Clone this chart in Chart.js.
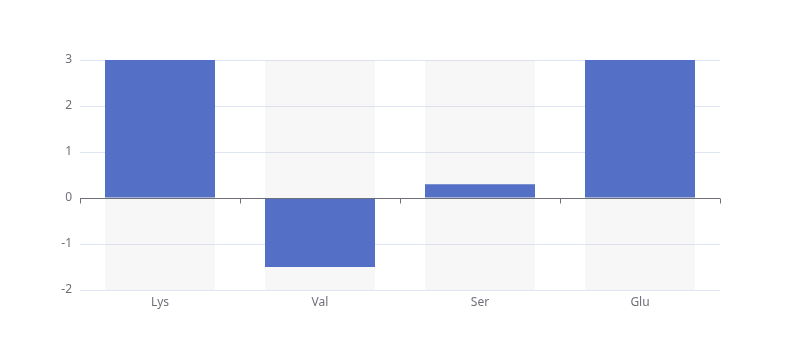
<!DOCTYPE html>
<html>
<head>
<meta charset="utf-8">
<script src="https://cdn.jsdelivr.net/npm/chart.js@4/dist/chart.umd.min.js"></script>
<style>
html,body{margin:0;padding:0;background:#fff;}
#wrap{width:800px;height:360px;}
</style>
</head>
<body>
<div id="wrap"><canvas id="c" width="800" height="360"></canvas></div>
<script>
const categories = ['Lys', 'Val', 'Ser', 'Glu'];
const values = [3, -1.5, 0.3, 3];
const yMin = -2;
const yMax = 3;

const zeroAxis = {
  id: 'zeroAxis',
  afterDatasetsDraw(chart) {
    const {ctx, chartArea, scales} = chart;
    const y0 = Math.round(scales.y.getPixelForValue(0)) + 0.5;
    ctx.save();
    ctx.strokeStyle = '#6E7079';
    ctx.lineWidth = 1;
    ctx.beginPath();
    ctx.moveTo(chartArea.left, y0);
    ctx.lineTo(chartArea.right, y0);
    const n = categories.length;
    for (let i = 0; i <= n; i++) {
      let x;
      if (i < n) x = scales.x.getPixelForValue(i) - (scales.x.getPixelForValue(1) - scales.x.getPixelForValue(0)) / 2;
      else x = scales.x.getPixelForValue(n - 1) + (scales.x.getPixelForValue(1) - scales.x.getPixelForValue(0)) / 2;
      x = Math.round(x) + 0.5;
      ctx.moveTo(x, y0);
      ctx.lineTo(x, y0 + 5);
    }
    ctx.stroke();
    ctx.restore();
  }
};

new Chart(document.getElementById('c'), {
  type: 'bar',
  data: {
    labels: categories,
    datasets: [
      {
        data: values,
        backgroundColor: '#5470c6',
        borderWidth: 0,
        grouped: false,
        barPercentage: 0.6875,
        categoryPercentage: 1
      },
      {
        data: categories.map(() => [yMin, yMax]),
        backgroundColor: 'rgba(180,180,180,0.1)',
        borderWidth: 0,
        grouped: false,
        barPercentage: 0.6875,
        categoryPercentage: 1
      }
    ]
  },
  options: {
    responsive: false,
    animation: false,
    layout: {padding: {top: 60, right: 80, left: 0, bottom: 0}},
    plugins: {legend: {display: false}, tooltip: {enabled: false}},
    scales: {
      x: {
        grid: {display: false, drawTicks: false},
        border: {display: false},
        ticks: {color: '#6E7079', font: {family: 'Noto Sans', size: 12}, padding: 5},
        afterFit(s) { s.height = 70; }
      },
      y: {
        min: yMin,
        max: yMax,
        grid: {color: '#E0E6F1', drawTicks: false},
        border: {display: false},
        ticks: {stepSize: 1, color: '#6E7079', font: {family: 'Noto Sans', size: 12}, padding: 8},
        afterFit(s) { s.width = 80; }
      }
    }
  },
  plugins: [zeroAxis]
});
</script>
</body>
</html>
